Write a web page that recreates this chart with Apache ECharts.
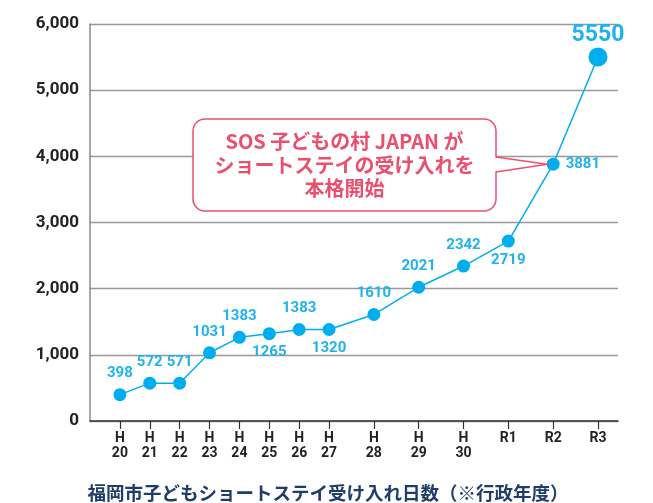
<!DOCTYPE html>
<html>
<head>
<meta charset="utf-8">
<script src="https://cdn.jsdelivr.net/npm/echarts@6/dist/echarts.min.js"></script>
<style>
  html, body { margin: 0; padding: 0; background: #fff; }
  #main { width: 653px; height: 503px; }
</style>
</head>
<body>
<div id="main"></div>
<script>
  // fiscal years (H = Heisei, R = Reiwa)
  var years = ['H\n20', 'H\n21', 'H\n22', 'H\n23', 'H\n24', 'H\n25', 'H\n26',
    'H\n27', 'H\n28', 'H\n29', 'H\n30', 'R1', 'R2', 'R3'];
  // accepted short-stay days, as plotted
  var days = [398, 572, 571, 1031, 1265, 1320, 1383, 1383, 1610, 2021, 2342, 2719, 3881, 5500];
  // value labels as printed next to the points
  var dayLabels = ['398', '572', '571', '1031', '1383', '1265', '1383', '1320',
    '1610', '2021', '2342', '2719', '3881', '5550'];
  var yTicks = [0, 1000, 2000, 3000, 4000, 5000, 6000];

  var blue = '#00aeef',
    labelBlue = '#1fb2ec',
    pink = '#e9506e';

  // the source spaces the early years tighter than the later ones
  var gaps = [2, 2, 2, 2, 2, 2, 2, 3, 3, 3, 3, 3, 3];
  var slots = [0];
  gaps.forEach(function (g) { slots.push(slots[slots.length - 1] + g); });

  var labelPos = ['top', 'top', 'top', 'top', 'top', 'bottom', 'top', 'bottom',
    'top', 'top', 'top', 'bottom', 'right', 'top'];

  var seriesData = days.map(function (v, i) {
    var last = i === days.length - 1;
    var item = {
      value: [slots[i], v],
      label: {
        position: labelPos[i],
        distance: labelPos[i] === 'top' ? 7 : (labelPos[i] === 'right' ? 6 : 5),
        formatter: dayLabels[i]
      }
    };
    if (last) {
      item.symbolSize = 19;
      item.label.fontSize = 23;
      item.label.distance = 1;
    }
    return item;
  });

  var myChart = echarts.init(document.getElementById('main'));

  var option = {
    animation: false,
    title: {
      text: '福岡市子どもショートステイ受け入れ日数（※行政年度）',
      left: 323,
      textAlign: 'center',
      top: 479,
      textStyle: {
        fontFamily: 'Noto Sans CJK JP',
        fontSize: 18.5,
        fontWeight: 'bold',
        color: '#1f3d6b'
      }
    },
    grid: { left: 90, right: 35, top: 24, bottom: 82 },
    xAxis: {
      type: 'value',
      min: -2,
      max: 33.34,
      splitLine: { show: false },
      axisLine: { show: true, lineStyle: { color: '#333', width: 1.5 } },
      axisTick: {
        show: true,
        customValues: slots,
        length: 8,
        lineStyle: { color: '#333', width: 1.2 }
      },
      axisLabel: {
        customValues: slots,
        margin: 10,
        fontFamily: 'Roboto',
        fontWeight: 'bold',
        fontSize: 14,
        lineHeight: 15,
        color: '#222',
        formatter: function (val) {
          var i = slots.indexOf(Math.round(val));
          return i >= 0 ? years[i] : '';
        }
      }
    },
    yAxis: {
      type: 'value',
      min: yTicks[0],
      max: yTicks[yTicks.length - 1],
      interval: 1000,
      axisLine: { show: true, onZero: false, lineStyle: { color: '#888', width: 1.5 } },
      axisTick: { show: false },
      splitLine: { lineStyle: { color: '#999', width: 1.3 } },
      axisLabel: {
        margin: 11,
        fontFamily: 'Roboto',
        fontWeight: 'bold',
        fontSize: 17,
        color: '#222',
        formatter: function (v) { return v.toLocaleString('en-US'); }
      }
    },
    series: [{
      type: 'line',
      data: seriesData,
      symbol: 'circle',
      symbolSize: 13,
      lineStyle: { color: blue, width: 1.5 },
      itemStyle: { color: blue },
      label: {
        show: true,
        fontFamily: 'Roboto',
        fontWeight: 'bold',
        fontSize: 15,
        color: labelBlue
      },
      z: 5
    }]
  };

  myChart.setOption(option);

  // callout pointing at R2
  var r2 = myChart.convertToPixel({ gridIndex: 0 }, [slots[12], days[12]]);
  var tip = [r2[0] - 6, r2[1]];
  var box = { x: 193, y: 119, w: 303, h: 92 };
  var bx = box.x + box.w;

  myChart.setOption({
    graphic: [
      {
        type: 'rect',
        z: 10,
        shape: { x: box.x, y: box.y, width: box.w, height: box.h, r: 12 },
        style: { fill: '#fff', stroke: pink, lineWidth: 1.5 }
      },
      {
        type: 'polygon',
        z: 11,
        shape: { points: [[bx - 1.5, 157.5], tip, [bx - 1.5, 171.5]] },
        style: { fill: '#fff' }
      },
      {
        type: 'polyline',
        z: 12,
        shape: { points: [[bx, 157], tip, [bx, 172]] },
        style: { stroke: pink, lineWidth: 1.5, fill: null }
      },
      {
        type: 'text',
        z: 12,
        x: box.x + box.w / 2,
        y: 165,
        style: {
          text: 'SOS 子どもの村 JAPAN が\nショートステイの受け入れを\n本格開始',
          font: 'bold 20px "Noto Sans CJK JP"',
          lineHeight: 23.5,
          fill: pink,
          align: 'center',
          verticalAlign: 'middle'
        }
      }
    ]
  });

  window.addEventListener('resize', function () {
    myChart.resize();
  });
</script>
</body>
</html>
